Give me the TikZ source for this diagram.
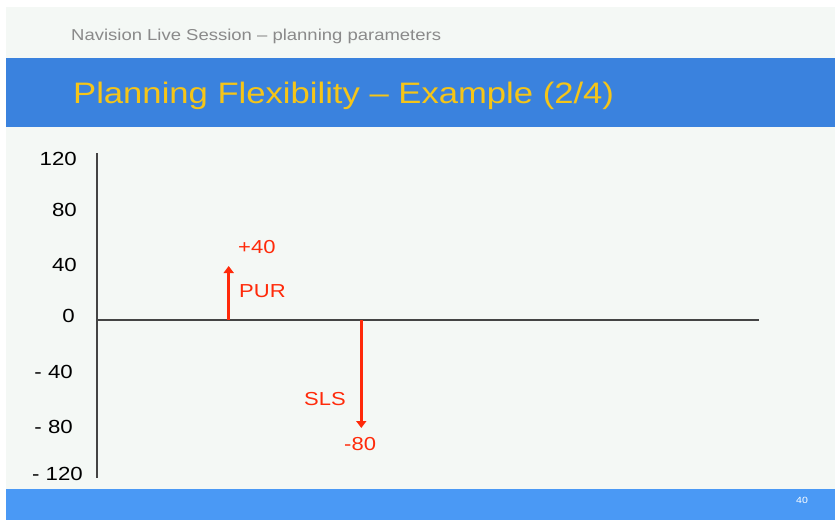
\documentclass[tikz,border=0pt]{standalone}
\usepackage{fontspec}
\setmainfont{Liberation Sans}[FakeStretch=1.17]
\usetikzlibrary{arrows.meta}

\definecolor{slidebg}{HTML}{F4F8F5}
\definecolor{bandblue}{HTML}{3A82DE}
\definecolor{footblue}{HTML}{4A99F5}
\definecolor{titleyellow}{HTML}{F5C518}
\definecolor{flowred}{HTML}{FF2A0A}
\definecolor{subgray}{HTML}{8A8A8A}
\definecolor{axisgray}{HTML}{444444}

\tikzset{
  txt/.style={inner sep=0pt},
  ticklabel/.style={txt,anchor=base east,font=\fontsize{19}{19}\selectfont},
  flowlabel/.style={txt,anchor=base west,text=flowred,font=\fontsize{18.8}{18.8}\selectfont},
  axis/.style={axisgray,line width=2.5pt},
  flow/.style={flowred,line width=3.5pt,-{Triangle[width=10pt,length=7pt]}}
}

\begin{document}
\begin{tikzpicture}[x=1pt,y=-1pt]

% slide background
\fill[white] (0,0) rectangle (835,520);
\fill[slidebg] (6,7) rectangle (835,490);
\fill[bandblue] (6,58) rectangle (835,127);
\fill[footblue] (6,489) rectangle (835,520);

\node[txt,anchor=base west,text=subgray,font=\fontsize{15.8}{15.8}\selectfont] (subtitle) at (71,40.7) {Navision Live Session -- planning parameters};
\node[txt,anchor=base west,text=titleyellow,font=\fontsize{29.6}{29.6}\selectfont] (title) at (73,103.3) {Planning Flexibility -- Example (2/4)};
\node[txt,anchor=base west,text=white,font=\fontsize{9}{9}\selectfont] (page) at (796,503) {40};

% axes
\coordinate (ytop) at (96.5,153);
\coordinate (ybot) at (96.5,478);
\coordinate (origin) at (96.5,320);
\coordinate (xend) at (759,320);
\draw[axis,line width=2pt] (ytop) -- (ybot);
\draw[axis] (origin) -- (xend);

\node[ticklabel] (t120) at (77,165) {120};
\node[ticklabel] (t80) at (77,216) {80};
\node[ticklabel] (t40) at (77,271) {40};
\node[ticklabel] (t0) at (75,322) {0};
\node[ticklabel] (tm40) at (73,378) {- 40};
\node[ticklabel] (tm80) at (73,433) {- 80};
\node[ticklabel] (tm120) at (83,480) {- 120};

% purchase and sales
\coordinate (purbase) at (228.7,320);
\coordinate (purtip) at (228.7,266);
\coordinate (slsbase) at (361.3,320);
\coordinate (slstip) at (361.3,428);
\draw[flow] (purbase) -- (purtip);
\draw[flow] (slsbase) -- (slstip);

\node[flowlabel] (purval) at (238,253) {+40};
\node[flowlabel] (purlab) at (239,297) {PUR};
\node[flowlabel] (slslab) at (304,405) {SLS};
\node[flowlabel] (slsval) at (344,450) {-80};

\end{tikzpicture}
\end{document}
